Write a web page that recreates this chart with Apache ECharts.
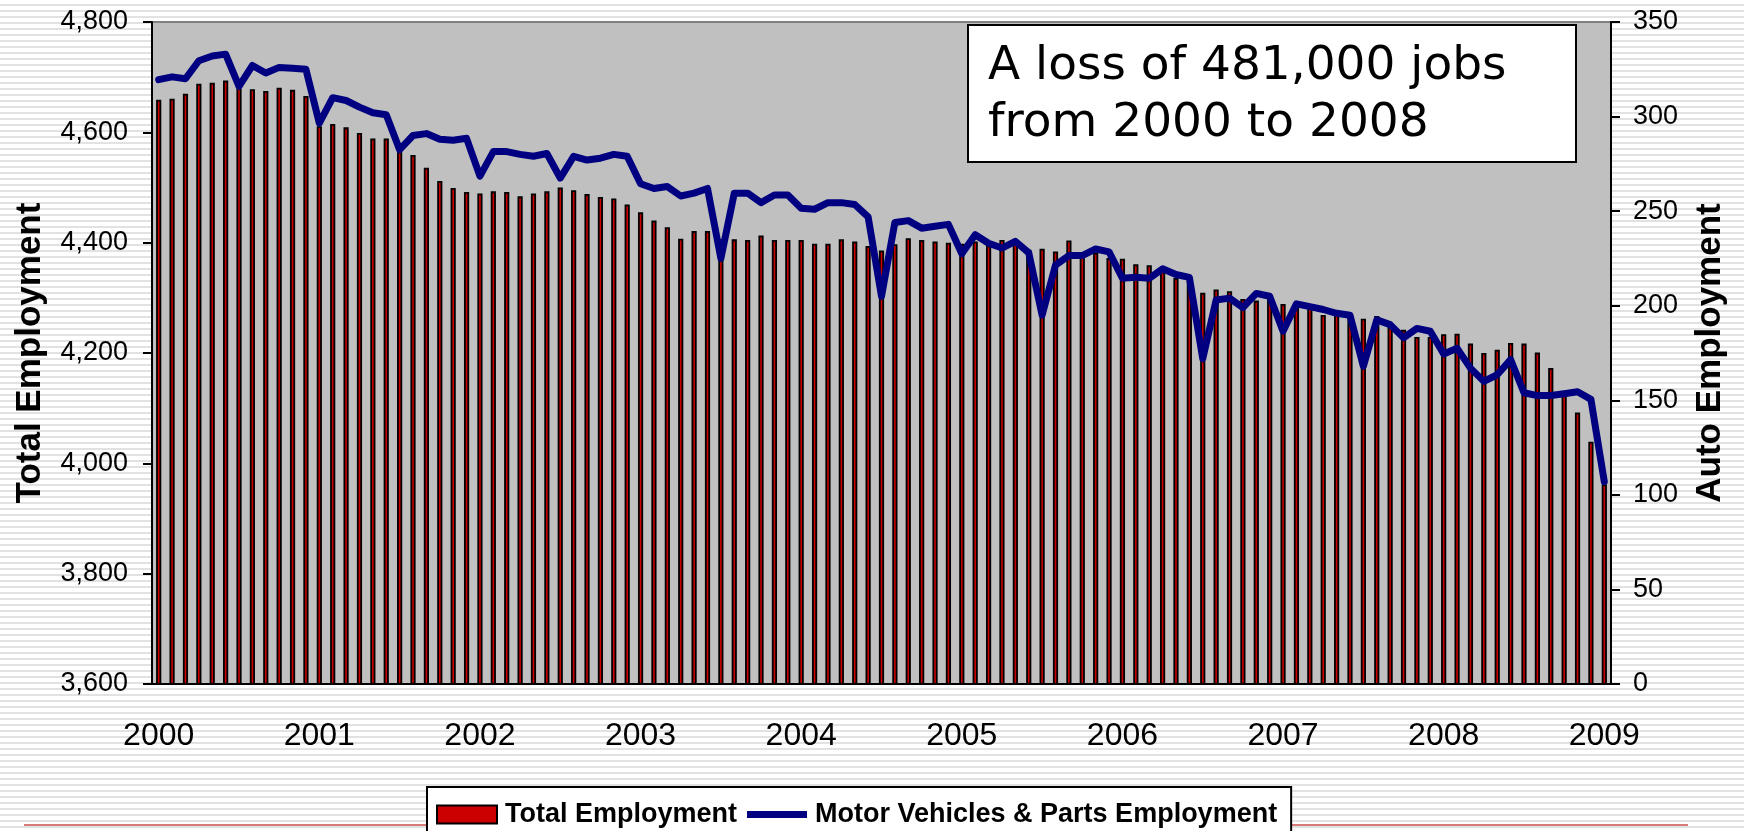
<!DOCTYPE html>
<html>
<head>
<meta charset="utf-8">
<script src="https://cdn.jsdelivr.net/npm/echarts@6/dist/echarts.min.js"></script>
<style>
html, body { margin: 0; padding: 0; width: 1744px; height: 831px; overflow: hidden;
  background: repeating-linear-gradient(to bottom, #ffffff 0px, #ffffff 4px, #e2e2e2 4px, #e2e2e2 6px); }
#chart { width: 1744px; height: 831px; }
</style>
</head>
<body>
<div id="chart"></div>
<script>
// ---- data ----
const years = [2000, 2001, 2002, 2003, 2004, 2005, 2006, 2007, 2008, 2009];
const monthNames = ['01','02','03','04','05','06','07','08','09','10','11','12'];
// monthly categories Jan 2000 .. Jan 2009
const categories = [];
years.forEach(function (y) {
  monthNames.forEach(function (m) {
    if (y < 2009 || m === '01') categories.push(y + '-' + m);
  });
});

// Total employment (thousands), left axis
const totalEmployment = [
  4659, 4661, 4670, 4688, 4690, 4694, 4680, 4678, 4675, 4681, 4677, 4666,
  4611, 4615, 4609, 4599, 4589, 4589, 4565, 4559, 4536, 4512, 4499, 4492,
  4489, 4493, 4492, 4484, 4489, 4493, 4500, 4495, 4488, 4483, 4480, 4469,
  4455, 4440, 4428, 4407, 4421, 4421, 4406, 4406, 4405, 4413, 4405, 4405,
  4405, 4398, 4398, 4406, 4402, 4394, 4386, 4397, 4408, 4405, 4402, 4400,
  4398, 4402, 4395, 4405, 4402, 4387, 4389, 4384, 4404, 4378, 4382, 4372,
  4371, 4361, 4359, 4348, 4336, 4331, 4309, 4315, 4312, 4298, 4295, 4302,
  4289, 4288, 4283, 4269, 4272, 4270, 4262, 4267, 4255, 4242, 4229, 4229,
  4234, 4235, 4217, 4200, 4206, 4218, 4217, 4201, 4173, 4128, 4092, 4039,
  3962
];

// Motor vehicles & parts employment (thousands), right axis
const autoEmployment = [
  319.5, 321, 320, 329.5, 332, 333, 316, 327, 323, 326, 325.5, 325,
  296.5, 310, 308.5, 305, 302, 301, 282.5, 290, 291, 288, 287.5, 288.5,
  268.5, 281.5, 281.5, 280, 279, 280.5, 267.5, 279, 277, 278, 280, 279,
  264.5, 262, 263, 258, 259.5, 262, 225, 259.5, 259.5, 254.5, 258.5, 258.5,
  251.5, 251, 254.5, 254.5, 253.5, 247, 205, 244, 245, 241, 242, 243,
  227.5, 237.5, 233, 230.5, 234, 228, 195, 221.5, 226.5, 226.5, 230, 228.5,
  214.5, 215, 214.5, 219.5, 216.5, 215, 172, 203, 204, 199, 206.5, 205,
  186.5, 201, 199.5, 198, 196, 195, 168, 192.5, 190, 183, 188, 186.5,
  174.5, 177.5, 167, 160, 163.5, 171.5, 154, 152.5, 152.5, 153.5, 154.5, 150.5,
  107
];

const leftAxisRange = [3600, 4800, 200];
const rightAxisRange = [0, 350, 50];
const seriesNames = ['Total Employment', 'Motor Vehicles & Parts Employment'];
const axisTitles = ['Total Employment', 'Auto Employment'];
const annotationLines = ['A loss of 481,000 jobs', 'from 2000 to 2008'];

// ---- chart ----
const FONT = '"Liberation Sans", Arial, sans-serif';
const chart = echarts.init(document.getElementById('chart'), null, { renderer: 'canvas' });

// thick line legend icon (with invisible slivers keeping an 18px tall box)
const lineIcon = 'path://M0,0h60v0.001h-60z M0,5.5h60v7h-60z M0,17.999h60v0.001h-60z';

const option = {
  animation: false,
  backgroundColor: 'transparent',
  textStyle: { fontFamily: FONT, color: '#000' },
  grid: {
    left: 152, right: 133, top: 22, bottom: 147,
    show: true, backgroundColor: '#C0C0C0', borderColor: '#808080', borderWidth: 2
  },
  legend: {
    left: 427, top: 787,
    padding: [14, 14, 40, 9],
    backgroundColor: '#ffffff',
    borderColor: '#000000', borderWidth: 2,
    itemWidth: 60, itemHeight: 18, itemGap: 10,
    textStyle: { fontFamily: FONT, fontSize: 27, fontWeight: 'bold', color: '#000', padding: [0, 0, 0, 3] },
    data: [
      { name: seriesNames[0], icon: 'rect' },
      { name: seriesNames[1], icon: lineIcon, itemStyle: { color: '#000080', borderWidth: 0 } }
    ]
  },
  xAxis: {
    type: 'category',
    data: categories,
    boundaryGap: true,
    axisLine: { lineStyle: { color: '#000', width: 2 } },
    axisTick: { interval: function (i) { return i % 12 === 0; }, length: 11, lineStyle: { color: '#000', width: 2 } },
    axisLabel: {
      interval: function (i) { return i % 12 === 0; },
      formatter: function (v) { return v.slice(0, 4); },
      fontFamily: FONT, fontSize: 32, color: '#000', margin: 36
    },
    splitLine: { show: false }
  },
  yAxis: [
    {
      type: 'value', position: 'left',
      min: leftAxisRange[0], max: leftAxisRange[1], interval: leftAxisRange[2],
      axisLine: { show: true, lineStyle: { color: '#000', width: 2 } },
      axisTick: { show: true, length: 9, lineStyle: { color: '#000', width: 2 } },
      axisLabel: {
        formatter: function (v) { return v.toLocaleString('en-US'); },
        fontFamily: FONT, fontSize: 27, color: '#000', margin: 24
      },
      splitLine: { show: false },
      name: axisTitles[0], nameLocation: 'middle', nameRotate: 90, nameGap: 104,
      nameTextStyle: { fontFamily: FONT, fontSize: 35, fontWeight: 'bold', color: '#000' }
    },
    {
      type: 'value', position: 'right',
      min: rightAxisRange[0], max: rightAxisRange[1], interval: rightAxisRange[2],
      axisLine: { show: true, lineStyle: { color: '#000', width: 2 } },
      axisTick: { show: true, length: 9, lineStyle: { color: '#000', width: 2 } },
      axisLabel: { fontFamily: FONT, fontSize: 27, color: '#000', margin: 22 },
      splitLine: { show: false },
      name: axisTitles[1], nameLocation: 'middle', nameRotate: 90, nameGap: 82,
      nameTextStyle: { fontFamily: FONT, fontSize: 35, fontWeight: 'bold', color: '#000' }
    }
  ],
  series: [
    {
      name: seriesNames[0], type: 'bar', yAxisIndex: 0,
      data: totalEmployment,
      barWidth: 5.2,
      itemStyle: { color: '#CC0000', borderColor: '#000000', borderWidth: 1.8 },
      z: 2
    },
    {
      name: seriesNames[1], type: 'line', yAxisIndex: 1,
      data: autoEmployment,
      symbol: 'none',
      lineStyle: { color: '#000080', width: 7, cap: 'round', join: 'round' },
      itemStyle: { color: '#000080' },
      z: 3
    }
  ],
  graphic: [
    { type: 'line', shape: { x1: 24, y1: 825, x2: 1688, y2: 825 },
      style: { stroke: '#d97b7b', lineWidth: 2 }, z: -10, silent: true },
    { type: 'rect', shape: { x: 968, y: 25, width: 608, height: 137 },
      style: { fill: '#ffffff', stroke: '#000000', lineWidth: 2 }, z: 10 },
    { type: 'text', x: 988, y: 67,
      style: { text: annotationLines[0], font: '47px "DejaVu Sans", Verdana, sans-serif', fill: '#000', verticalAlign: 'middle' }, z: 11 },
    { type: 'text', x: 988, y: 124,
      style: { text: annotationLines[1], font: '47px "DejaVu Sans", Verdana, sans-serif', fill: '#000', verticalAlign: 'middle' }, z: 11 }
  ]
};
chart.setOption(option);
</script>
</body>
</html>
